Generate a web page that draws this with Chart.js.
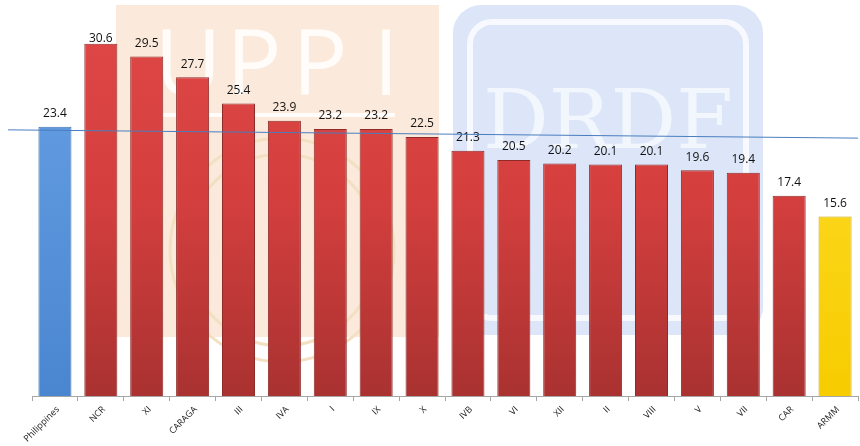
<!DOCTYPE html>
<html>
<head>
<meta charset="utf-8">
<script src="https://cdn.jsdelivr.net/npm/chart.js@4/dist/chart.umd.min.js"></script>
<style>
  html, body { margin: 0; padding: 0; background: #fff; }
  #wrap { width: 860px; height: 446px; position: relative; }
</style>
</head>
<body>
<div id="wrap"><canvas id="regionChart"></canvas></div>
<script>
// regions and values
const regions = ['Philippines', 'NCR', 'XI', 'CARAGA', 'III', 'IVA', 'I', 'IX', 'X', 'IVB',
                 'VI', 'XII', 'II', 'VIII', 'V', 'VII', 'CAR', 'ARMM'];
const values = [23.4, 30.6, 29.5, 27.7, 25.4, 23.9, 23.2, 23.2, 22.5, 21.3,
                20.5, 20.2, 20.1, 20.1, 19.6, 19.4, 17.4, 15.6];
// the slightly tilted reference line (value at left edge, value at right edge)
const refLine = [23.1, 22.4];

function barFill(ctx) {
    const chart = ctx.chart;
    const area = chart.chartArea;
    if (!area) return '#d64040';
    const name = regions[ctx.dataIndex];
    const g = chart.ctx.createLinearGradient(0, area.top, 0, area.bottom);
    if (name === 'Philippines') {
        g.addColorStop(0, '#6aa2e6');
        g.addColorStop(1, '#4a86d0');
    } else if (name === 'ARMM') {
        g.addColorStop(0, '#ffe033');
        g.addColorStop(1, '#f7cc00');
    } else {
        g.addColorStop(0, '#e04846');
        g.addColorStop(0.5, '#d43f3e');
        g.addColorStop(1, '#a93231');
    }
    return g;
}

function barBorder(ctx) {
    const name = regions[ctx.dataIndex];
    if (name === 'Philippines') return '#3f73b5';
    if (name === 'ARMM') return '#c9a400';
    return '#8f2a29';
}

// faint watermark logos behind the chart
const watermark = {
    id: 'watermark',
    beforeDraw(chart) {
        const c = chart.ctx;
        c.save();
        c.fillStyle = '#fbeadb';
        c.fillRect(116, 5, 323, 332);
        // faint seal
        c.strokeStyle = '#f3e0c2';
        c.lineWidth = 3;
        c.beginPath();
        c.arc(282, 250, 112, 0, Math.PI * 2);
        c.stroke();
        c.beginPath();
        c.arc(282, 250, 96, 0, Math.PI * 2);
        c.stroke();
        c.fillStyle = '#ffffff';
        c.globalAlpha = 0.85;
        c.font = '92px "Open Sans"';
        c.textAlign = 'center';
        c.textBaseline = 'alphabetic';
        ['U', 'P', 'P', 'I'].forEach((ch, i) => c.fillText(ch, 188 + i * 66, 95));
        c.fillRect(160, 113, 235, 4);
        c.globalAlpha = 1;
        c.fillStyle = '#dce6f8';
        c.beginPath();
        c.roundRect(453, 5, 310, 330, 28);
        c.fill();
        c.strokeStyle = '#f7f9fe';
        c.lineWidth = 6;
        c.beginPath();
        c.roundRect(470, 22, 276, 296, 22);
        c.stroke();
        c.fillStyle = '#f2f6fd';
        c.font = '82px "DejaVu Serif"';
        c.fillText('DRDF', 608, 148);
        c.restore();
    }
};

// value labels, category labels and the reference line
const overlay = {
    id: 'overlay',
    afterDatasetsDraw(chart) {
        const c = chart.ctx;
        const meta = chart.getDatasetMeta(0);
        const y = chart.scales.y;
        const x = chart.scales.x;
        const area = chart.chartArea;
        c.save();
        c.fillStyle = '#111';
        c.font = '12px "Open Sans"';
        c.textAlign = 'center';
        c.textBaseline = 'middle';
        meta.data.forEach((bar, i) => {
            const ty = Math.max(bar.y - 13, 39);
            c.fillText(values[i].toFixed(1), bar.x, ty);
        });

        c.font = '9px "Open Sans"';
        c.fillStyle = '#222';
        c.textAlign = 'right';
        c.textBaseline = 'middle';
        regions.forEach((name, i) => {
            const px = x.getPixelForValue(i);
            c.save();
            c.translate(px + 3, area.bottom + 12);
            c.rotate(-Math.PI / 4);
            c.fillText(name, 0, 0);
            c.restore();
        });

        const y0 = y.getPixelForValue(refLine[0]);
        const y1 = y.getPixelForValue(refLine[1]);
        const x0 = area.left - 24;
        const slope = (y1 - y0) / (area.right - area.left);
        c.strokeStyle = '#4a7ebf';
        c.lineWidth = 1;
        c.beginPath();
        c.moveTo(x0, y0 - slope * 24);
        c.lineTo(area.right, y1);
        c.stroke();
        c.restore();
    }
};

new Chart(document.getElementById('regionChart').getContext('2d'), {
    type: 'bar',
    data: {
        labels: regions,
        datasets: [{
            data: values,
            backgroundColor: barFill,
            borderColor: barBorder,
            borderWidth: 1,
            categoryPercentage: 1,
            barPercentage: 0.72
        }]
    },
    options: {
        responsive: true,
        maintainAspectRatio: false,
        animation: false,
        layout: { padding: { left: 32, right: 2, top: 0, bottom: 0 } },
        plugins: {
            legend: { display: false },
            tooltip: { enabled: false }
        },
        scales: {
            x: {
                grid: {
                    offset: true,
                    drawOnChartArea: false,
                    tickLength: 5,
                    color: '#a6a6a6'
                },
                border: { color: '#a6a6a6' },
                ticks: { display: false },
                afterFit(scale) { scale.height = 50; }
            },
            y: {
                display: false,
                min: 0,
                max: 34.4
            }
        }
    },
    plugins: [watermark, overlay]
});
</script>
</body>
</html>
